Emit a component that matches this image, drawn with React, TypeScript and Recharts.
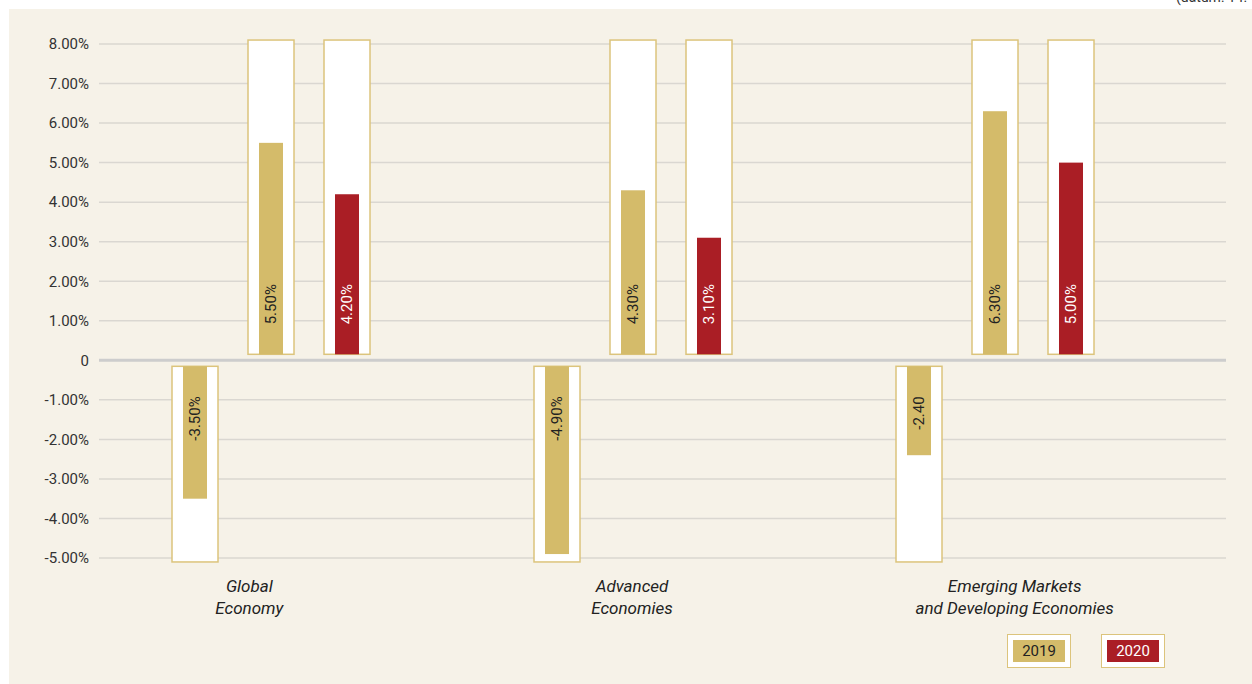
import React from "react";
import { BarChart, Bar, XAxis, YAxis, CartesianGrid, ReferenceLine, Legend } from "recharts";

const categories = ["Global Economy", "Advanced Economies", "Emerging Markets and Developing Economies"];
const categoryLines = [["Global", "Economy"], ["Advanced", "Economies"], ["Emerging Markets", "and Developing Economies"]];
const negativeValues = [-3.5, -4.9, -2.4];
const negativeLabels = ["-3.50%", "-4.90%", "-2.40"];
const values2019 = [5.5, 4.3, 6.3];
const labels2019 = ["5.50%", "4.30%", "6.30%"];
const values2020 = [4.2, 3.1, 5.0];
const labels2020 = ["4.20%", "3.10%", "5.00%"];
const yTicks = [-5, -4, -3, -2, -1, 0, 1, 2, 3, 4, 5, 6, 7, 8];
const boxMax = 8.1;
const boxMin = -5.1;

const GOLD = "#D4BB6A";
const RED = "#AA1E25";
const BOX = "#DCC47C";
const PANEL = "#F6F2E8";
const FONT = "Roboto, 'DejaVu Sans', sans-serif";

const data = categories.map((c, i) => ({
  category: c,
  lines: categoryLines[i],
  neg: negativeValues[i],
  negLabel: negativeLabels[i],
  y2019: values2019[i],
  l2019: labels2019[i],
  y2020: values2020[i],
  l2020: labels2020[i],
}));

const makeShape = (dataKey: string, labelKey: string, fill: string, textFill: string) => (props: any) => {
  const { x, y, width, height, payload } = props;
  const v = payload[dataKey];
  if (!v || !isFinite(y) || !isFinite(height)) return <g />;
  const top = Math.min(y, y + height);
  const h = Math.abs(height);
  const unit = h / Math.abs(v);
  const zero = v >= 0 ? top + h : top;
  const gap = 6;
  const inset = 11;
  const cx = x + width / 2;
  let boxY0, boxY1, barY0, barY1, labelY, anchor;
  if (v >= 0) {
    boxY0 = zero - boxMax * unit;
    boxY1 = zero - gap;
    barY0 = zero - v * unit;
    barY1 = zero - gap;
    labelY = zero - 36;
    anchor = "start";
  } else {
    boxY0 = zero + gap;
    boxY1 = zero - boxMin * unit;
    barY0 = zero + gap;
    barY1 = zero - v * unit;
    labelY = zero + 36;
    anchor = "end";
  }
  return (
    <g>
      <rect x={x} y={boxY0} width={width} height={boxY1 - boxY0} fill="#FFFFFF" stroke={BOX} strokeWidth={1.5} />
      <rect x={x + inset} y={barY0} width={width - 2 * inset} height={barY1 - barY0} fill={fill} />
      <text
        transform={`translate(${cx},${labelY}) rotate(-90)`}
        x={0}
        y={0}
        dy="0.36em"
        textAnchor={anchor}
        fill={textFill}
        fontFamily={FONT}
        fontSize={15}
      >
        {payload[labelKey]}
      </text>
    </g>
  );
};

const CategoryTick = (props: any) => {
  const { x, y, index } = props;
  const lines = categoryLines[index] || [];
  return (
    <text x={x} y={y} textAnchor="middle" fill="#222" fontFamily={FONT} fontStyle="italic" fontSize={17}>
      {lines.map((l, i) => (
        <tspan key={i} x={x} dy={i === 0 ? -4 : 22}>
          {l}
        </tspan>
      ))}
    </text>
  );
};

const LegendContent = (props: any) => {
  const items = (props.payload || []).filter((p: any) => p.type !== "none");
  return (
    <div style={{ display: "flex", gap: 30 }}>
      {items.map((p: any) => (
        <div
          key={p.value}
          style={{
            boxSizing: "border-box",
            width: 64,
            height: 34,
            border: `1.5px solid ${BOX}`,
            background: "#fff",
            padding: 5,
          }}
        >
          <div
            style={{
              background: p.color,
              height: 22,
              lineHeight: "22px",
              textAlign: "center",
              fontFamily: FONT,
              fontSize: 15,
              color: p.value === "2020" ? "#fff" : "#222",
            }}
          >
            {p.value}
          </div>
        </div>
      ))}
    </div>
  );
};

const fmt = (v: number) => (v === 0 ? "0" : `${v.toFixed(2)}%`);

export default function App() {
  return (
    <div style={{ position: "absolute", left: 0, top: 0, width: 1252, height: 684, background: "#fff", overflow: "hidden" }}>
      <div style={{ position: "absolute", left: 9, top: 9, width: 1243, height: 675, background: PANEL }} />
      <div style={{ position: "absolute", left: 1176, top: -11, fontFamily: FONT, fontSize: 14, color: "#333", whiteSpace: "nowrap" }}>
        (datum: 14. 4. 2020)
      </div>
      <div style={{ position: "absolute", left: 0, top: 0 }}>
        <BarChart
          width={1252}
          height={684}
          data={data}
          margin={{ top: 44, right: 26, bottom: 66, left: 0 }}
          barCategoryGap={82}
          barGap={30}
        >
          <CartesianGrid xAxisId="bars" vertical={false} stroke="#DAD7D1" strokeWidth={1.5} />
          <XAxis xAxisId="bars" dataKey="category" hide padding={{ left: -9, right: 50 }} />
          <XAxis
            xAxisId="labels"
            dataKey="category"
            padding={{ left: -41, right: 20 }}
            axisLine={false}
            tickLine={false}
            tick={<CategoryTick />}
            height={60}
            interval={0}
          />
          <YAxis
            domain={[-5, 8]}
            ticks={yTicks}
            tickFormatter={fmt}
            axisLine={false}
            tickLine={false}
            tickMargin={4}
            width={99}
            tick={{ fill: "#333", fontFamily: FONT, fontSize: 15 }}
            interval={0}
          />
          <ReferenceLine xAxisId="bars" y={0} stroke="#CDCDCD" strokeWidth={3} />
          <Bar xAxisId="bars" dataKey="neg" name="neg" legendType="none" fill={GOLD} isAnimationActive={false} shape={makeShape("neg", "negLabel", GOLD, "#222")} />
          <Bar xAxisId="bars" dataKey="y2019" name="2019" fill={GOLD} isAnimationActive={false} shape={makeShape("y2019", "l2019", GOLD, "#222")} />
          <Bar xAxisId="bars" dataKey="y2020" name="2020" fill={RED} isAnimationActive={false} shape={makeShape("y2020", "l2020", RED, "#fff")} />
          <Legend
            layout="horizontal"
            verticalAlign="middle"
            align="center"
            content={<LegendContent />}
            wrapperStyle={{ position: "absolute", left: 1007, top: 634, width: 170, height: 34 }}
          />
        </BarChart>
      </div>
    </div>
  );
}
